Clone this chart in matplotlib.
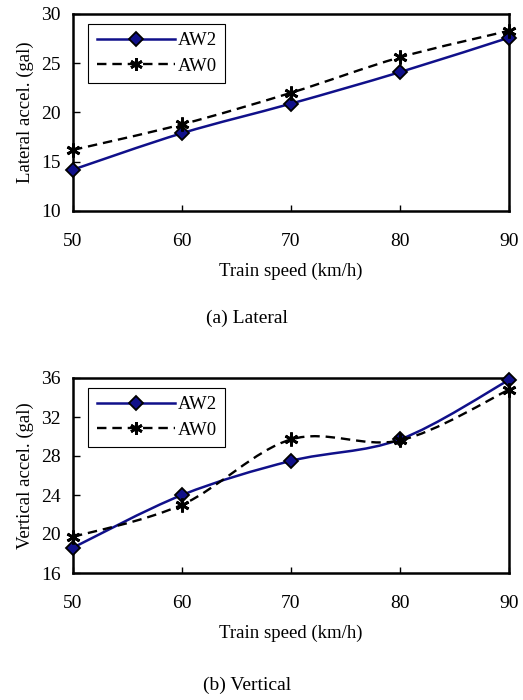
"""Lateral and vertical car-body acceleration versus train speed, AW2 vs AW0 load."""
import matplotlib
matplotlib.use("Agg")
import matplotlib.pyplot as plt
import numpy as np
from matplotlib.lines import Line2D
from matplotlib.patches import PathPatch
from matplotlib.path import Path

plt.rcParams["font.family"] = ["Liberation Serif", "DejaVu Serif"]

speed = [50, 60, 70, 80, 90]
lateral_aw2 = [14.2, 17.9, 20.9, 24.1, 27.6]
lateral_aw0 = [16.2, 18.8, 22.0, 25.6, 28.3]
vertical_aw2 = [18.6, 24.0, 27.5, 29.7, 35.8]
vertical_aw0 = [19.7, 23.0, 29.7, 29.6, 34.8]

NAVY = "#10108a"
DASH = (0, (4, 2.5))


def smooth_path(x, y):
    # Catmull-Rom style bezier through the points (spreadsheet "smoothed line")
    pts = np.column_stack([x, y]).astype(float)
    n = len(pts)
    verts = [pts[0]]
    codes = [Path.MOVETO]
    for i in range(n - 1):
        p0 = pts[max(i - 1, 0)]
        p1 = pts[i]
        p2 = pts[i + 1]
        p3 = pts[min(i + 2, n - 1)]
        c1 = p1 + (p2 - p0) / 6.0
        c2 = p2 - (p3 - p1) / 6.0
        verts += [c1, c2, p2]
        codes += [Path.CURVE4] * 3
    return Path(verts, codes)


def draw_panel(ax, aw2, aw0, ylim, yticks, ylabel):
    ax.add_patch(PathPatch(smooth_path(speed, aw2), fill=False, edgecolor=NAVY,
                           lw=1.8, zorder=3))
    ax.add_patch(PathPatch(smooth_path(speed, aw0), fill=False, edgecolor="black",
                           lw=1.7, linestyle=DASH, zorder=3))
    ax.plot(speed, aw2, linestyle="none", marker="D", markersize=7,
            markerfacecolor=NAVY, markeredgecolor="black", markeredgewidth=1.3,
            zorder=4, clip_on=False)
    ax.plot(speed, aw0, linestyle="none", marker=(6, 2, 0), markersize=10,
            color="black", markeredgewidth=2.0, zorder=4, clip_on=False)

    ax.set_xlim(50, 90)
    ax.set_ylim(*ylim)
    ax.set_xticks(speed)
    ax.set_yticks(yticks)
    ax.tick_params(axis="x", direction="in", length=4, width=1, pad=16, labelsize=14)
    ax.tick_params(axis="y", direction="in", length=5, width=1, pad=9, labelsize=14)
    for s in ax.spines.values():
        s.set_linewidth(1.8)
    ax.set_xlabel("Train speed (km/h)", fontsize=13.5, labelpad=9)
    ax.set_ylabel(ylabel, fontsize=13.5, labelpad=5)

    handles = [
        Line2D([], [], color=NAVY, lw=1.8, marker="D", markersize=7,
               markerfacecolor=NAVY, markeredgecolor="black", markeredgewidth=1.3),
        Line2D([], [], color="black", lw=1.7, linestyle=DASH,
               marker=(6, 2, 0), markersize=9, markeredgewidth=2.0),
    ]
    leg = ax.legend(handles, ["AW2", "AW0"], loc="upper left",
                    bbox_to_anchor=(0.035, 0.95), fontsize=13.5, numpoints=1,
                    handlelength=4.2, handletextpad=0.1, borderpad=0.45,
                    labelspacing=0.45, fancybox=False, framealpha=1,
                    edgecolor="black", borderaxespad=0)
    leg.get_frame().set_linewidth(0.8)


fig = plt.figure(figsize=(5.23, 7.0), dpi=100)
ax1 = fig.add_axes([73 / 523, 1 - 211 / 700, 436 / 523, 197 / 700])
ax2 = fig.add_axes([73 / 523, 1 - 573 / 700, 436 / 523, 195 / 700])

draw_panel(ax1, lateral_aw2, lateral_aw0, (10, 30), [10, 15, 20, 25, 30],
           "Lateral accel. (gal)")
draw_panel(ax2, vertical_aw2, vertical_aw0, (16, 36), [16, 20, 24, 28, 32, 36],
           "Vertical accel. (gal)")

fig.text(247 / 523, 1 - 318 / 700, "(a) Lateral", ha="center", va="center", fontsize=14)
fig.text(247 / 523, 1 - 685 / 700, "(b) Vertical", ha="center", va="center", fontsize=14)

fig.savefig("out.png", dpi=100)
